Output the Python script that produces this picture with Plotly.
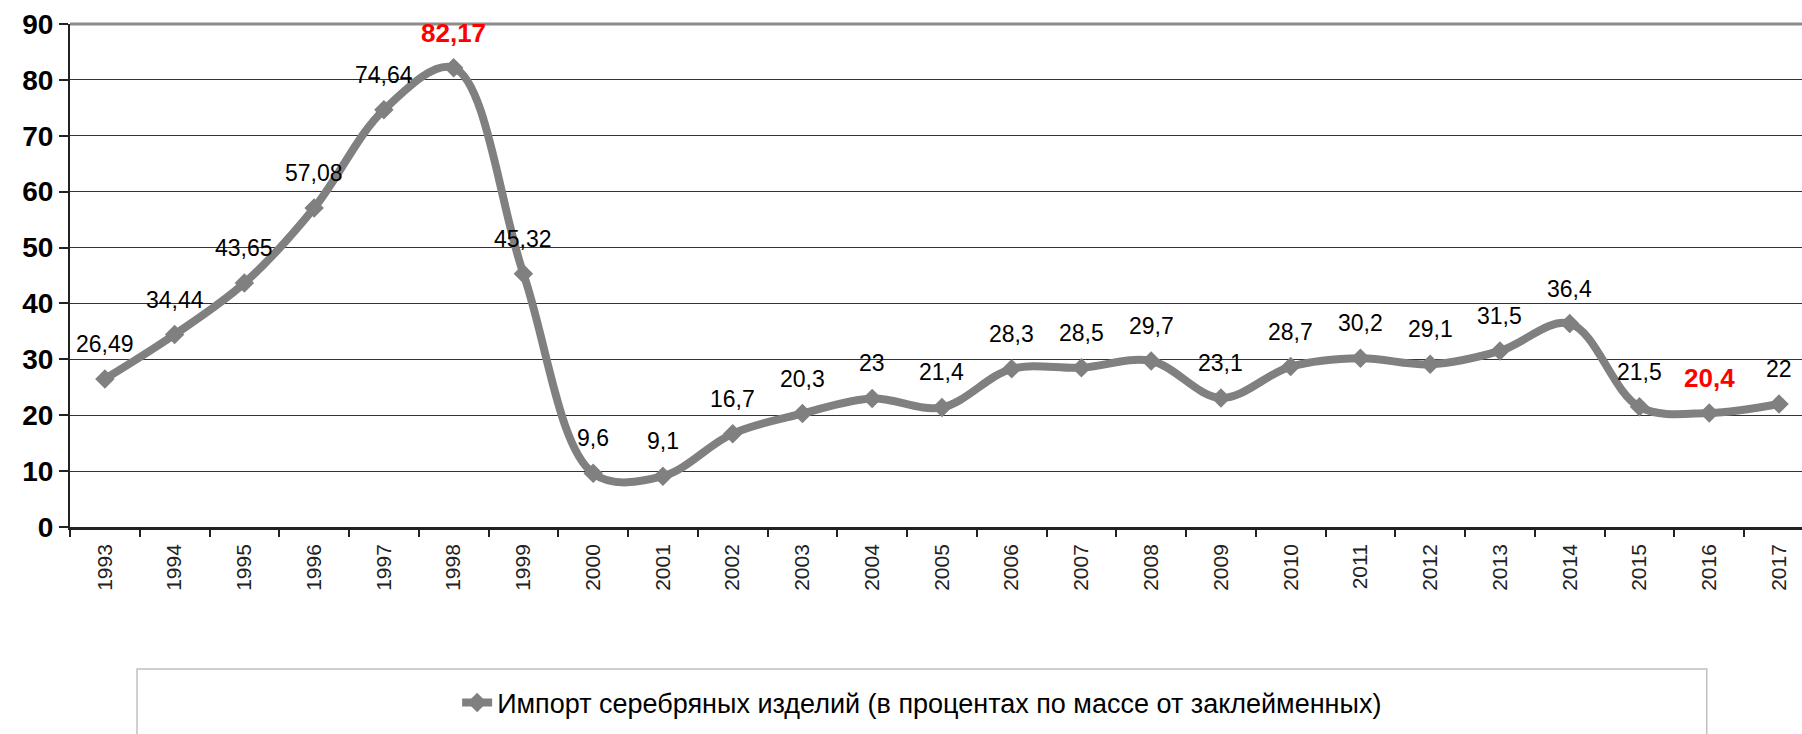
import plotly.graph_objects as go

# ---- data ----
years = [str(y) for y in range(1993, 2018)]
values = [26.49, 34.44, 43.65, 57.08, 74.64, 82.17, 45.32, 9.6, 9.1, 16.7,
          20.3, 23, 21.4, 28.3, 28.5, 29.7, 23.1, 28.7, 30.2, 29.1,
          31.5, 36.4, 21.5, 20.4, 22]
highlight_years = ["1998", "2016"]
series_name = "Импорт серебряных изделий (в процентах по массе от заклейменных)"
y_ticks = list(range(0, 100, 10))

FONT = "Liberation Sans, Arial, sans-serif"
GRAY = "#808080"

fig = go.Figure()
fig.add_trace(go.Scatter(
    x=years, y=values, name=series_name,
    mode="lines+markers",
    line=dict(color=GRAY, width=8, shape="spline", smoothing=1.0),
    marker=dict(symbol="diamond", size=15, color=GRAY),
    hoverinfo="x+y",
))

def fmt(v):
    return f"{v:g}".replace(".", ",")

annotations = []
for i, (yr, v) in enumerate(zip(years, values)):
    hl = yr in highlight_years
    annotations.append(dict(
        x=i, y=v, xref="x", yref="y",
        text=fmt(v),
        showarrow=False, yanchor="middle", yshift=35,
        font=dict(family=FONT, size=26 if hl else 23,
                  color="#ff0000" if hl else "#000000",
                  weight="bold" if hl else "normal"),
    ))

fig.update_layout(
    width=1802, height=734,
    margin=dict(l=70, r=0, t=24, b=207),
    paper_bgcolor="white", plot_bgcolor="white",
    font=dict(family=FONT, color="#000"),
    showlegend=True,
    legend=dict(
        orientation="h", x=0.492, xanchor="center", y=-0.35, yanchor="middle",
        font=dict(family=FONT, size=27, color="#000"),
        bgcolor="rgba(0,0,0,0)", borderwidth=0,
    ),
    annotations=annotations,
    shapes=[
        # legend frame
        dict(type="rect", xref="paper", yref="paper",
             x0=0.0387, x1=0.945, y0=-0.2823, y1=-0.43,
             line=dict(color="#c0c0c0", width=1.5), fillcolor="white", layer="below"),
        # top border of plot area
        dict(type="line", xref="paper", yref="paper", x0=0, x1=1, y0=1, y1=1,
             line=dict(color="#8c8c8c", width=3)),
    ],
)

fig.update_xaxes(
    type="category", range=[-0.5, 24.33],
    tickangle=-90, tickfont=dict(family=FONT, size=21, color="#222"),
    ticks="outside", ticklen=7, tickwidth=1.5, tickcolor="#222",
    tickson="boundaries", ticklabelstandoff=6,
    showline=True, linecolor="#222", linewidth=2.5,
    showgrid=False, zeroline=False,
)
fig.update_yaxes(
    range=[0, 90], tickvals=y_ticks,
    tickfont=dict(family=FONT, size=28, color="#000", weight="bold"),
    ticks="outside", ticklen=9, tickwidth=1.5, tickcolor="#222",
    showline=True, linecolor="#222", linewidth=2,
    showgrid=True, gridcolor="#333", gridwidth=1.3,
    zeroline=False,
)

fig.write_html(
    "out.html",
    config={"displayModeBar": False},
    post_script="document.body.style.margin='0';document.body.style.overflow='hidden';",
)
